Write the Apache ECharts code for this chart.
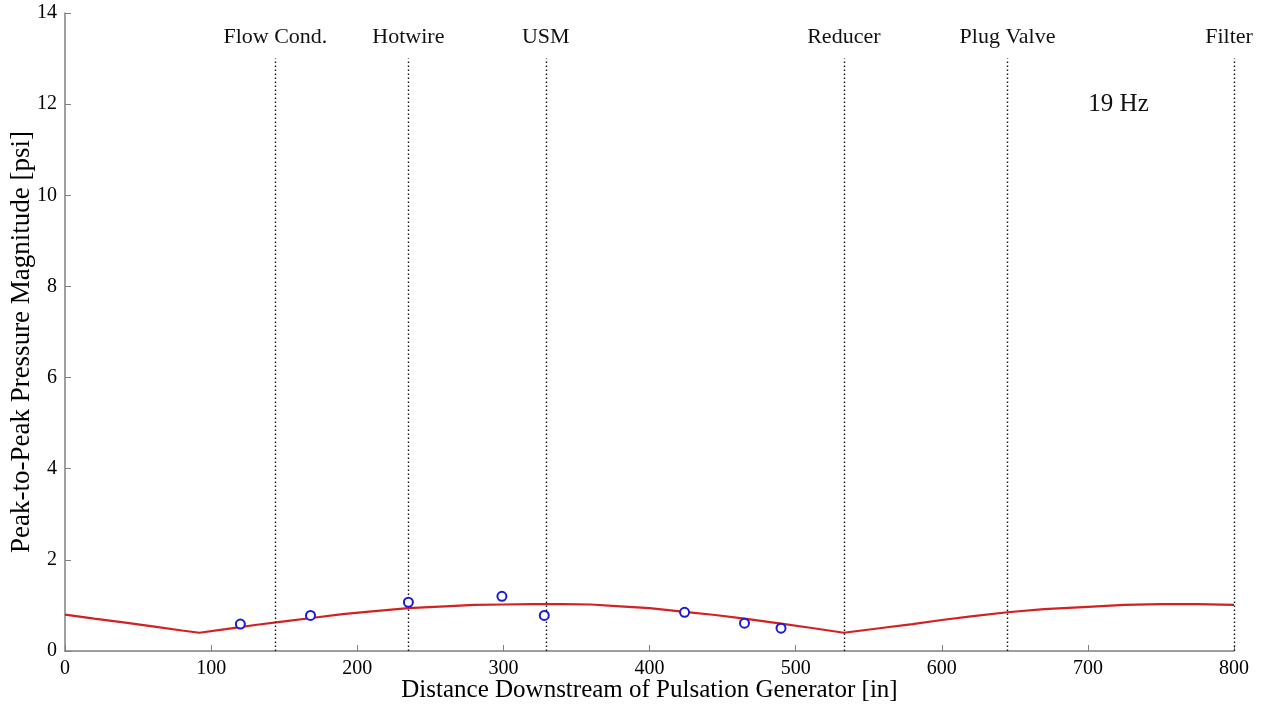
<!DOCTYPE html>
<html>
<head>
<meta charset="utf-8">
<script src="https://cdn.jsdelivr.net/npm/echarts@6/dist/echarts.min.js"></script>
<style>html,body{margin:0;padding:0;background:#fff;}#c{width:1267px;height:708px;}</style>
</head>
<body>
<div id="c"></div>
<script>
// Model curve (distance [in], peak-to-peak [psi])
const curveX = [0, 20, 40, 60, 80, 92, 110, 130, 150, 170, 190, 210, 235, 260, 280, 300, 320, 340, 360, 380, 400, 424, 445, 465, 490, 510, 533, 560, 580, 600, 620, 645, 670, 700, 725, 750, 775, 800];
const curveY = [0.80, 0.71, 0.63, 0.54, 0.45, 0.40, 0.48, 0.57, 0.65, 0.73, 0.81, 0.87, 0.94, 0.98, 1.01, 1.02, 1.03, 1.03, 1.02, 0.98, 0.94, 0.86, 0.79, 0.71, 0.60, 0.51, 0.40, 0.51, 0.59, 0.68, 0.76, 0.85, 0.92, 0.97, 1.01, 1.03, 1.03, 1.01];
// Measured points
const measX = [120, 168, 235, 299, 328, 424, 465, 490];
const measY = [0.59, 0.78, 1.07, 1.20, 0.78, 0.85, 0.61, 0.50];
// Component locations
const compNames = ['Flow Cond.', 'Hotwire', 'USM', 'Reducer', 'Plug Valve', 'Filter'];
const compX = [144, 235, 329, 533, 645, 800];
const lineTop = 13;
const labelY = 13.47;
const freqLabel = '19 Hz';
const freqPos = [721, 12];
const xTicks = { min: 0, max: 800, interval: 100 };
const yTicks = { min: 0, max: 14, interval: 2 };

const serif = '"Liberation Serif", "DejaVu Serif", serif';
const chart = echarts.init(document.getElementById('c'));
chart.setOption({
  animation: false,
  backgroundColor: '#fff',
  grid: { left: 65, right: 33, top: 13, bottom: 57, containLabel: false, outerBoundsMode: 'none' },
  xAxis: {
    type: 'value', min: xTicks.min, max: xTicks.max, interval: xTicks.interval,
    name: 'Distance Downstream of Pulsation Generator [in]',
    nameLocation: 'middle', nameGap: 27, nameMoveOverlap: false,
    nameTextStyle: { fontFamily: serif, fontSize: 25, color: '#000' },
    axisLine: { show: true, lineStyle: { color: '#7f7f7f', width: 1.5 } },
    axisTick: { show: true, inside: true, length: 6, lineStyle: { color: '#7f7f7f' } },
    axisLabel: { fontFamily: serif, fontSize: 20, color: '#000', margin: 8 },
    splitLine: { show: false }
  },
  yAxis: {
    type: 'value', min: yTicks.min, max: yTicks.max, interval: yTicks.interval,
    name: 'Peak-to-Peak Pressure Magnitude [psi]',
    nameLocation: 'middle', nameGap: 30, nameMoveOverlap: false,
    nameTextStyle: { fontFamily: serif, fontSize: 27, color: '#000', padding: [0, 20, 0, 0] },
    axisLine: { show: true, lineStyle: { color: '#7f7f7f', width: 1.5 } },
    axisTick: { show: true, inside: true, length: 6, lineStyle: { color: '#7f7f7f' } },
    axisLabel: { fontFamily: serif, fontSize: 20, color: '#000', margin: 8 },
    splitLine: { show: false }
  },
  series: [
    {
      type: 'line',
      data: curveX.map((x, i) => [x, curveY[i]]),
      showSymbol: false,
      smooth: false,
      lineStyle: { color: '#d42020', width: 2.2 },
      z: 3,
      markLine: {
        silent: true,
        symbol: ['none', 'none'],
        label: { show: false },
        lineStyle: { type: [1.5, 2.5], color: '#111', width: 1.4, opacity: 1 },
        data: compX.map(x => [{ coord: [x, 0] }, { coord: [x, lineTop] }])
      }
    },
    {
      type: 'scatter',
      data: measX.map((x, i) => [x, measY[i]]),
      symbol: 'emptyCircle',
      symbolSize: 9,
      itemStyle: { color: '#1a1ad8', borderColor: '#1a1ad8', borderWidth: 2.6, opacity: 1 },
      z: 5
    },
    {
      type: 'scatter',
      data: compX.map((x, i) => ({
        value: [x, labelY], name: compNames[i],
        label: i === compX.length - 1 ? { offset: [-5, 0] } : {}
      })),
      symbolSize: 0,
      silent: true,
      itemStyle: { opacity: 1 },
      label: {
        show: true, position: 'inside', formatter: p => p.name,
        fontFamily: serif, fontSize: 22, color: '#111', textBorderWidth: 0
      }
    },
    {
      type: 'scatter',
      data: [{ value: freqPos, name: freqLabel }],
      symbolSize: 0,
      silent: true,
      itemStyle: { opacity: 1 },
      label: {
        show: true, position: 'inside', formatter: p => p.name,
        fontFamily: serif, fontSize: 25, color: '#111', textBorderWidth: 0
      }
    }
  ]
});
</script>
</body>
</html>
